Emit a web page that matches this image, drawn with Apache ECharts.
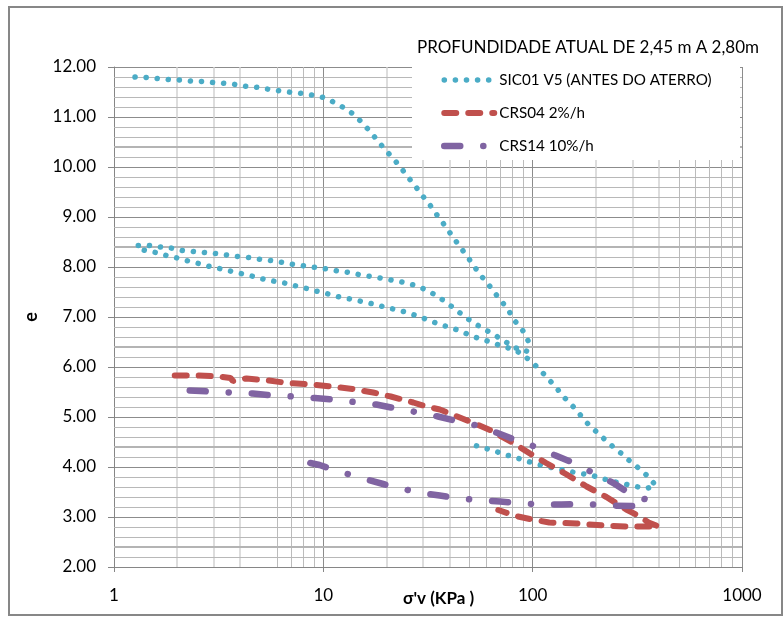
<!DOCTYPE html>
<html>
<head>
<meta charset="utf-8">
<script src="https://cdn.jsdelivr.net/npm/echarts@6/dist/echarts.min.js"></script>
<style>
html,body{margin:0;padding:0;background:#fff;}
#chart{width:784px;height:623px;}
</style>
</head>
<body>
<div id="chart"></div>
<script>
const seriesNames = ['SIC01 V5 (ANTES DO ATERRO)', 'CRS04 2%/h', 'CRS14 10%/h'];
const titleText = 'PROFUNDIDADE ATUAL DE 2,45 m A 2,80m';
const xName = "σ'v (KPa )";
const yName = 'e';

// SIC01 V5: loading, unload, reload, loading, unload
const sic01 = [
  [1.26,11.80],[1.44,11.79],[1.62,11.77],[1.83,11.75],[2.08,11.74],[2.34,11.72],[2.65,11.71],[3.0,11.69],
  [3.4,11.67],[3.83,11.65],[4.34,11.61],[4.91,11.59],[5.55,11.55],[6.28,11.52],[7.12,11.49],[8.0,11.47],
  [9.03,11.43],[10.3,11.38],[11.4,11.28],[12.75,11.17],[14.2,11.03],[15.6,10.85],[16.9,10.69],[18.3,10.51],
  [20.0,10.32],[21.8,10.15],[23.7,9.96],[25.7,9.77],[27.8,9.59],[30.1,9.40],[32.7,9.21],[35.3,9.01],
  [38.2,8.82],[41.1,8.63],[44.5,8.43],[48.1,8.24],[51.9,8.05],[55.9,7.85],[60.8,7.68],[65.9,7.48],
  [71.8,7.29],[77.2,7.11],[83.0,6.90],[90.0,6.72],[95.8,6.50],[93.4,6.31],
  [80.6,6.40],[72.8,6.53],[65.0,6.65],[58.2,6.77],[52.3,6.88],[47.2,7.01],[42.6,7.16],[38.4,7.30],
  [34.7,7.43],[31.1,7.54],[27.6,7.63],[24.4,7.69],[21.7,7.73],[19.2,7.77],[17.0,7.81],[15.1,7.84],
  [13.4,7.89],[11.76,7.92],[10.4,7.96],[9.23,7.99],[8.15,8.02],[7.2,8.05],[6.38,8.09],[5.65,8.13],
  [5.01,8.15],[4.42,8.19],[3.9,8.21],[3.45,8.24],[3.06,8.27],[2.7,8.29],[2.39,8.31],[2.12,8.33],
  [1.87,8.38],[1.65,8.40],[1.47,8.43],[1.28,8.43],
  [1.38,8.34],[1.58,8.29],[1.78,8.23],[2.0,8.18],[2.26,8.12],[2.54,8.07],[2.87,8.01],[3.26,7.96],
  [3.66,7.91],[4.13,7.86],[4.67,7.81],[5.25,7.75],[5.92,7.71],[6.71,7.67],[7.57,7.61],[8.55,7.56],
  [9.6,7.50],[10.8,7.45],[12.2,7.39],[13.9,7.35],[15.7,7.30],[17.7,7.25],[20.0,7.19],[22.6,7.14],
  [25.2,7.09],[28.6,7.01],[32.2,6.93],[36.0,6.85],[40.6,6.79],[45.7,6.71],[51.2,6.62],[57.6,6.55],
  [65.0,6.48],[73.0,6.40],[82.0,6.35],[89.0,6.25],[98.7,6.11],
  [108,5.95],[117.7,5.78],[128.9,5.60],[140,5.41],[153,5.25],[166.6,5.07],[181,4.89],[198.6,4.73],
  [218.6,4.57],[241.4,4.41],[265.4,4.27],[293,4.11],[325,3.96],[355.9,3.81],[387,3.63],
  [350,3.57],[311,3.61],[275,3.66],[243,3.71],[215,3.77],[190,3.84],[170,3.87],[150,3.91],
  [133,3.96],[118.5,4.00],[105,4.06],[93.4,4.12],[82.7,4.19],[73.6,4.25],[65,4.33],[57.5,4.39],[51.4,4.45]
];

// CRS04 2%/h
const crs04 = [
  [1.95,5.83],[2.5,5.83],[3.2,5.81],[3.6,5.78],[3.7,5.72],[4.3,5.77],[5.5,5.73],[6.7,5.68],
  [8.8,5.65],[11,5.61],[13.8,5.56],[17.3,5.49],[21,5.41],[26.9,5.29],[31.1,5.21],[36,5.15],
  [42.4,5.03],[50,4.91],[62.5,4.74],[80.7,4.48],[97,4.27],[116,4.08],[144,3.86],[181,3.61],
  [225,3.40],[280,3.15],[325,3.01],[358,2.89],[400,2.81],
  [330,2.81],[280,2.81],[218,2.83],[162,2.87],[120,2.89],[97,2.96],[83,3.02],[68.5,3.14]
];

// CRS14 10%/h
const crs14 = [
  [2.3,5.53],[2.9,5.51],[3.6,5.49],[4.6,5.47],[5.7,5.43],[7.2,5.41],[9.1,5.38],[11.1,5.35],
  [14.1,5.30],[17.9,5.25],[21.6,5.18],[27.6,5.10],[35.3,5.01],[42.4,4.93],[53.9,4.83],[67,4.69],
  [80.7,4.56],[102,4.41],[127,4.24],[155,4.09],[174,3.98],[202,3.85],[243,3.68],[278,3.52],
  [300,3.42],[350,3.35],[350,3.22],[300,3.22],[233,3.23],[176,3.26],[137,3.25],[114,3.25],
  [89,3.27],[70,3.31],[57.6,3.33],[45,3.37],[36,3.43],[29.5,3.48],[24,3.56],[19.7,3.65],
  [15.5,3.77],[13.8,3.83],[11.1,3.95],[9.6,4.04],[8,4.11]
];

const xTicks = [1, 10, 100, 1000];
const xMinorLight = [2,3,4,20,30,40,200,300,400];
const xMinorMid = [6,7,8,9,50,60,70,80,90,500,600,700,800,900];
const yThickGrid = [2.4, 4.4, 6.4, 8.4, 10.4];

// minor horizontal gridlines every 0.2 (grid, not data)
const yMinorGrid = [];
for (let i = 10; i <= 60; i++) { if (i % 5 !== 0) yMinorGrid.push(+(i * 0.2).toFixed(1)); }

const colors = ['#4bacc6', '#c0504d', '#8064a2'];
const widths = [5.5, 6, 6.5];
const dashes = [[0.1, 11], [12, 12], [16, 23, 0.1, 23]];

const FONT = 'Lato';
const chart = echarts.init(document.getElementById('chart'), null, {renderer: 'canvas'});
chart.setOption({
  animation: false,
  backgroundColor: '#fff',
  grid: {left: 114, right: 42, top: 67, bottom: 56, containLabel: false},
  title: {
    text: titleText, left: 412, top: 34,
    textStyle: {fontFamily: FONT, fontSize: 17, fontWeight: 'normal', color: '#000'}
  },
  legend: {
    orient: 'vertical', left: 441, top: 70, padding: 0,
    itemWidth: 50, itemHeight: 14, itemGap: 13, itemTextGap: 7,
    data: seriesNames.map((n, i) => ({
      name: n,
      lineStyle: {width: widths[i], type: dashes[i], cap: 'round', color: colors[i]}
    })),
    itemStyle: {opacity: 0},
    textStyle: {fontFamily: FONT, fontSize: 15.2, color: '#000', lineHeight: 20}
  },
  xAxis: {
    type: 'log', logBase: 10, min: 1, max: 1000,
    axisLine: {show: true, lineStyle: {color: '#868686', width: 1}},
    axisTick: {show: true, length: 5, lineStyle: {color: '#868686'}},
    axisLabel: {fontFamily: FONT, fontSize: 17, color: '#000', margin: 20,
      formatter: v => String(Math.round(v))},
    splitLine: {show: true, lineStyle: {color: '#8c8c8c', width: 1}}
  },
  yAxis: {
    type: 'value', min: 2, max: 12, interval: 1,
    name: yName, nameLocation: 'middle', nameRotate: 90, nameGap: 74,
    nameTextStyle: {fontFamily: FONT, fontSize: 18, fontWeight: 'bold', color: '#000'},
    axisLine: {show: true, lineStyle: {color: '#868686', width: 1}},
    axisTick: {show: true, length: 6, lineStyle: {color: '#868686'}},
    axisLabel: {fontFamily: FONT, fontSize: 17, color: '#000', margin: 18,
      formatter: v => v.toFixed(2)},
    splitLine: {show: true, lineStyle: {color: '#8c8c8c', width: 1}}
  },
  graphic: [
    {type: 'rect', z: 100, silent: true,
     shape: {x: 9, y: 7, width: 773, height: 608},
     style: {fill: 'none', stroke: '#878787', lineWidth: 2}},
    {type: 'rect', z: 3, silent: true,
     shape: {x: 412, y: 66, width: 328, height: 94},
     style: {fill: '#fff', stroke: 'none'}},
    {type: 'text', z: 100, silent: true, left: 403, top: 590,
     style: {text: xName, fontFamily: FONT, fontSize: 17, fontWeight: 'bold', fill: '#000'}}
  ],
  series: [
    {
      type: 'line', data: [], z: 1, silent: true,
      markLine: {
        silent: true, symbol: 'none', z: 1, animation: false,
        label: {show: false},
        lineStyle: {color: '#bcbcbc', width: 1, type: 'solid'},
        emphasis: {disabled: true},
        data: xMinorMid.map(v => ({xAxis: v}))
          .concat(xMinorLight.map(v => ({xAxis: v, lineStyle: {color: '#d2d2d2', width: 1.5, type: 'solid'}})))
          .concat(yMinorGrid.map(v => ({yAxis: v, lineStyle: {color: '#b8b8b8', width: 1, type: 'solid'}})))
          .concat(yThickGrid.map(v => ({yAxis: v, lineStyle: {color: '#b4b4b4', width: 2, type: 'solid'}})))
      }
    },
    {
      name: seriesNames[0], type: 'line', data: sic01, symbol: 'none', z: 2,
      lineStyle: {color: colors[0], width: widths[0], type: dashes[0], cap: 'round'},
      itemStyle: {color: colors[0]}
    },
    {
      name: seriesNames[1], type: 'line', data: crs04, symbol: 'none', z: 2,
      lineStyle: {color: colors[1], width: widths[1], type: dashes[1], cap: 'round'},
      itemStyle: {color: colors[1]}
    },
    {
      name: seriesNames[2], type: 'line', data: crs14, symbol: 'none', z: 2,
      lineStyle: {color: colors[2], width: widths[2], type: dashes[2], cap: 'round'},
      itemStyle: {color: colors[2]}
    }
  ]
});
</script>
</body>
</html>
